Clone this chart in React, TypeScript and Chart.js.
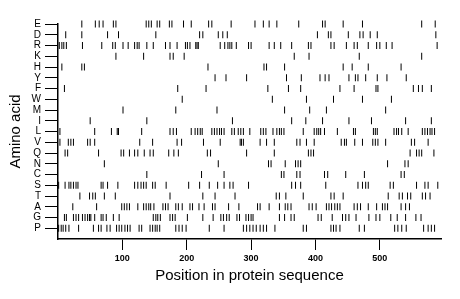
import React, { useEffect, useRef } from "react";
import { Chart, registerables } from "chart.js";

Chart.register(...registerables);

// Amino acids, top row first
const aminoAcids = ["E", "D", "R", "K", "H", "Y", "F", "W", "M", "I", "L", "V", "Q", "N", "C", "S", "T", "A", "G", "P"];

// Positions (residue index) of each amino acid in the sequence
const posE = [37, 58, 64, 70, 86, 90, 137, 141, 145, 154, 158, 173, 177, 195, 207, 234, 239, 269, 306, 319, 328, 340, 374, 411, 415, 443, 473, 565, 586];
const posD = [12, 37, 77, 94, 152, 220, 225, 249, 256, 263, 403, 420, 424, 451, 469, 474, 485, 496, 587];
const posR = [2, 6, 9, 13, 38, 68, 85, 89, 101, 109, 119, 123, 126, 138, 148, 167, 174, 185, 198, 201, 205, 214, 216, 218, 252, 259, 264, 267, 270, 277, 296, 300, 328, 336, 346, 363, 389, 393, 424, 429, 448, 460, 465, 482, 495, 500, 510, 519, 589];
const posK = [90, 133, 174, 179, 196, 367, 390, 468, 565];
const posH = [6, 37, 41, 233, 320, 324, 352, 443, 457, 482, 533];
const posY = [244, 261, 293, 355, 378, 407, 415, 421, 452, 462, 466, 478, 496, 511, 541];
const posF = [10, 186, 230, 326, 358, 377, 438, 460, 494, 497, 552, 560, 566, 580];
const posW = [193, 333, 386, 428, 473, 518];
const posM = [101, 183, 247, 352, 391, 417, 509];
const posI = [50, 138, 271, 363, 385, 411, 452, 487, 540, 580];
const posL = [3, 57, 83, 92, 94, 130, 174, 179, 184, 207, 213, 217, 221, 224, 239, 243, 247, 251, 254, 258, 270, 274, 280, 284, 288, 298, 315, 319, 323, 334, 340, 344, 347, 351, 381, 398, 402, 405, 408, 414, 434, 459, 462, 490, 493, 496, 522, 526, 529, 534, 544, 566, 570, 574, 578, 581, 585];
const posV = [3, 16, 20, 24, 46, 50, 57, 127, 147, 185, 192, 226, 252, 283, 285, 288, 314, 324, 336, 371, 376, 386, 398, 440, 445, 448, 461, 473, 489, 493, 497, 509, 549, 554, 575];
const posQ = [11, 15, 63, 98, 102, 111, 119, 124, 134, 143, 148, 172, 180, 187, 232, 237, 293, 336, 389, 393, 397, 547, 557, 561, 565, 584];
const posN = [72, 249, 327, 331, 353, 369, 373, 377, 512, 539, 544];
const posC = [138, 223, 258, 347, 351, 371, 376, 414, 419, 447, 476, 533, 538];
const posS = [1, 11, 17, 20, 24, 28, 31, 67, 70, 77, 93, 119, 124, 129, 133, 137, 147, 151, 168, 203, 220, 235, 248, 258, 267, 272, 296, 363, 369, 377, 416, 466, 473, 478, 482, 516, 521, 557, 570, 575, 590];
const posT = [34, 49, 54, 58, 72, 89, 174, 225, 244, 275, 339, 344, 354, 381, 424, 429, 443, 513, 530, 535, 543, 548, 566, 571, 578];
const posA = [23, 60, 99, 103, 107, 111, 124, 133, 137, 141, 144, 149, 163, 167, 171, 183, 187, 193, 205, 209, 219, 227, 240, 244, 265, 281, 310, 314, 328, 344, 353, 357, 362, 390, 395, 401, 417, 421, 425, 430, 434, 438, 460, 465, 470, 482, 495, 504, 508, 512, 533, 540, 546];
const posG = [10, 13, 24, 28, 32, 38, 42, 46, 49, 51, 57, 67, 70, 75, 86, 95, 148, 152, 155, 159, 174, 178, 182, 201, 225, 241, 253, 257, 262, 266, 278, 282, 292, 296, 300, 303, 344, 352, 362, 367, 404, 409, 426, 442, 447, 452, 463, 483, 494, 500, 517, 527, 540, 556, 564];
const posP = [1, 5, 8, 12, 17, 32, 55, 63, 67, 76, 81, 91, 95, 99, 104, 108, 112, 126, 130, 143, 147, 151, 154, 158, 183, 188, 193, 199, 235, 258, 288, 293, 298, 303, 308, 314, 319, 324, 337, 381, 386, 424, 428, 432, 438, 468, 476, 523, 528, 534, 541, 568, 575, 580, 585];

const positionLists = [posE, posD, posR, posK, posH, posY, posF, posW, posM, posI, posL, posV, posQ, posN, posC, posS, posT, posA, posG, posP];

const xTickValues = [100, 200, 300, 400, 500];
const xMax = 595;

const FONT = "'Liberation Sans', Arial, Helvetica, sans-serif";

export default function App() {
  const canvasRef = useRef<HTMLCanvasElement | null>(null);

  useEffect(() => {
    const canvas = canvasRef.current;
    if (!canvas) return;
    const n = aminoAcids.length;
    const points: { x: number; y: number }[] = [];
    positionLists.forEach((list, i) => {
      const yVal = n - 1 - i;
      list.forEach((p) => points.push({ x: p, y: yVal }));
    });

    const chart = new Chart(canvas, {
      type: "scatter",
      data: {
        datasets: [
          {
            data: points,
            pointStyle: "line",
            rotation: 90,
            radius: 3.5,
            hoverRadius: 3.5,
            borderWidth: 1,
            borderColor: "#000",
            backgroundColor: "#000",
            clip: false as any,
          },
        ],
      },
      options: {
        animation: false,
        responsive: false,
        events: [],
        layout: { padding: { top: 24, right: 19, left: 0, bottom: 0 } },
        plugins: { legend: { display: false }, tooltip: { enabled: false } },
        scales: {
          x: {
            type: "linear",
            min: 0,
            max: xMax,
            afterFit: (s: any) => {
              s.height = 60;
            },
            afterBuildTicks: (axis: any) => {
              axis.ticks = xTickValues.map((v) => ({ value: v }));
            },
            grid: {
              display: true,
              drawOnChartArea: false,
              drawTicks: true,
              tickLength: 11,
              color: "#000",
              lineWidth: 1,
            },
            border: { display: true, color: "#000", width: 1.5 },
            ticks: {
              color: "#000",
              padding: 3,
              maxRotation: 0,
              font: { family: FONT, size: 9, weight: "bold" },
            },
            title: {
              display: true,
              text: "Position in protein sequence",
              color: "#000",
              font: { family: FONT, size: 15 },
              padding: { top: 0, bottom: 14 },
            },
          },
          y: {
            type: "linear",
            min: -1,
            max: n - 1,
            afterFit: (s: any) => {
              s.width = 58;
            },
            afterBuildTicks: (axis: any) => {
              axis.ticks = aminoAcids.map((_, i) => ({ value: i }));
            },
            grid: {
              display: true,
              drawOnChartArea: false,
              drawTicks: true,
              tickLength: 13,
              color: "#000",
              lineWidth: 1,
            },
            border: { display: true, color: "#000", width: 1.5 },
            ticks: {
              color: "#000",
              padding: 4,
              autoSkip: false,
              font: { family: FONT, size: 10 },
              callback: (v: any) => aminoAcids[n - 1 - Number(v)] ?? "",
            },
            title: {
              display: true,
              text: "Amino acid",
              color: "#000",
              font: { family: FONT, size: 15 },
              padding: { top: 7, bottom: 0 },
            },
          },
        },
      },
    });

    return () => {
      chart.destroy();
    };
  }, []);

  return (
    <div style={{ position: "fixed", left: 0, top: 0, width: 460, height: 299, background: "#fff" }}>
      <canvas ref={canvasRef} width={460} height={299} style={{ width: 460, height: 299 }} />
    </div>
  );
}
